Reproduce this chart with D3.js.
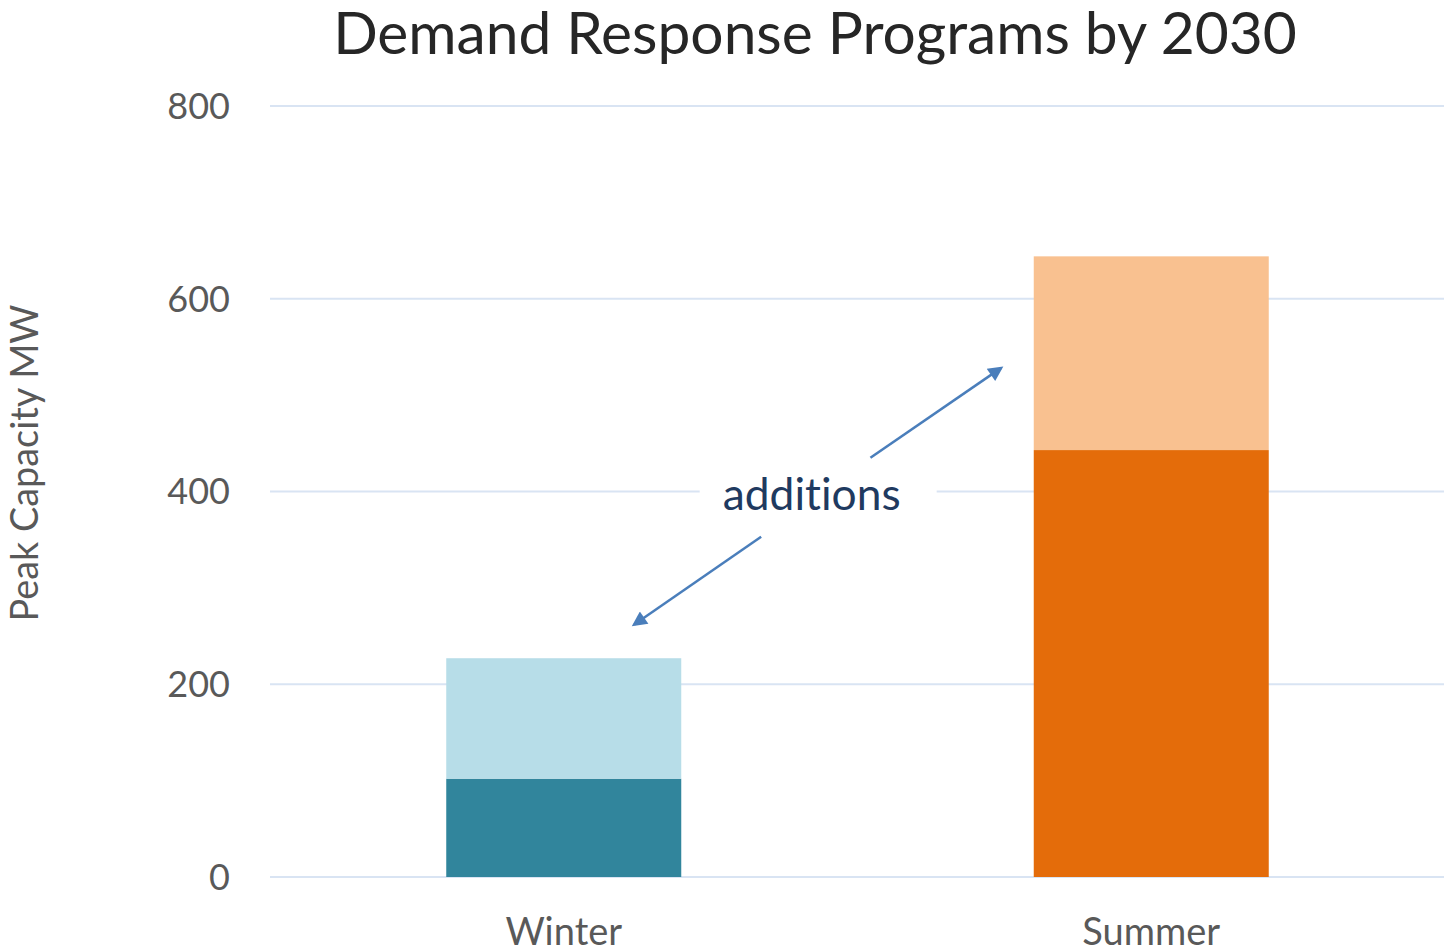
<!DOCTYPE html>
<html>
<head>
<meta charset="utf-8">
<script src="https://cdn.jsdelivr.net/npm/d3@7"></script>
<style>
  body { margin: 0; background: #fff; }
  svg { display: block; font-family: Lato, "Open Sans", sans-serif; font-variant-ligatures: none; }
</style>
</head>
<body>
<svg id="chart" width="1445" height="952"></svg>
<script>
// data
const seasons = ['Winter', 'Summer'];
const existing = [102, 443];
const additions = [125, 201];
const baseColors = ['#31859c', '#e46c0a'];
const addColors = ['#b7dde8', '#f9c190'];
const yTicks = [0, 200, 400, 600, 800];

// annotation: x as fraction of the plot width, y in MW
const arrowUp = { x1: 0.511, y1: 435, x2: 0.622, y2: 528 };
const arrowDown = { x1: 0.418, y1: 353, x2: 0.310, y2: 262 };
const noteLabel = { x: 0.461, y: 397, text: 'additions' };

const svg = d3.select('#chart');
const margin = { top: 106, right: 0, bottom: 75, left: 270 };
const width = 1445 - margin.left - margin.right;
const height = 952 - margin.top - margin.bottom;

const g = svg.append('g').attr('transform', `translate(${margin.left},${margin.top})`);

const x = d3.scaleBand().domain(seasons).range([0, width]).paddingInner(0).paddingOuter(0);
const y = d3.scaleLinear().domain([0, 800]).range([height, 0]);
const fx = d3.scaleLinear().domain([0, 1]).range([0, width]);

// shrink/grow a text so it spans a given width
function fit(sel, target) {
  const w = sel.node().getComputedTextLength();
  const fs = parseFloat(sel.attr('font-size'));
  sel.attr('font-size', fs * target / w);
}

// gridlines
g.append('g')
  .selectAll('line')
  .data(yTicks)
  .enter()
  .append('line')
  .attr('x1', 0)
  .attr('x2', width - 1)
  .attr('y1', d => y(d))
  .attr('y2', d => y(d))
  .attr('stroke', '#d9e4f3')
  .attr('stroke-width', 2);

// y tick labels
g.append('g')
  .selectAll('text')
  .data(yTicks)
  .enter()
  .append('text')
  .attr('x', -40)
  .attr('y', d => y(d))
  .attr('dy', '0.36em')
  .attr('text-anchor', 'end')
  .attr('font-size', 36)
  .attr('fill', '#595959')
  .text(d => d);

// stacked bars
const bw = x.bandwidth() * 0.4;
const bars = g.append('g')
  .selectAll('g')
  .data(seasons)
  .enter()
  .append('g');

bars.append('rect')
  .attr('x', d => x(d) + (x.bandwidth() - bw) / 2)
  .attr('width', bw)
  .attr('y', (d, i) => y(existing[i]))
  .attr('height', (d, i) => y(0) - y(existing[i]))
  .attr('fill', (d, i) => baseColors[i]);

bars.append('rect')
  .attr('x', d => x(d) + (x.bandwidth() - bw) / 2)
  .attr('width', bw)
  .attr('y', (d, i) => y(existing[i] + additions[i]))
  .attr('height', (d, i) => y(existing[i]) - y(existing[i] + additions[i]))
  .attr('fill', (d, i) => addColors[i]);

// x labels
g.append('g')
  .selectAll('text')
  .data(seasons)
  .enter()
  .append('text')
  .attr('x', d => x(d) + x.bandwidth() / 2)
  .attr('y', height + 68)
  .attr('text-anchor', 'middle')
  .attr('font-size', 38)
  .attr('fill', '#595959')
  .text(d => d);

// annotation: white box behind the label, arrows and text
svg.append('defs').append('marker')
  .attr('id', 'head')
  .attr('viewBox', '0 0 10 10')
  .attr('refX', 8)
  .attr('refY', 5)
  .attr('markerWidth', 7)
  .attr('markerHeight', 6)
  .attr('orient', 'auto')
  .append('path')
  .attr('d', 'M0,0 L10,5 L0,10 z')
  .attr('fill', '#4a7ebb');

const note = g.append('g');
const box = note.append('rect').attr('fill', '#fff');
[arrowUp, arrowDown].forEach(a => {
  note.append('line')
    .attr('x1', fx(a.x1)).attr('y1', y(a.y1))
    .attr('x2', fx(a.x2)).attr('y2', y(a.y2))
    .attr('stroke', '#4a7ebb')
    .attr('stroke-width', 2.5)
    .attr('marker-end', 'url(#head)');
});
const label = note.append('text')
  .attr('x', fx(noteLabel.x))
  .attr('y', y(noteLabel.y))
  .attr('dy', '0.36em')
  .attr('text-anchor', 'middle')
  .attr('font-size', 40)
  .attr('fill', '#1f3a60')
  .text(noteLabel.text);
fit(label, 178);
box.attr('x', fx(noteLabel.x) - 112).attr('y', y(noteLabel.y) - 40)
  .attr('width', 237).attr('height', 80);

// y axis title
const yTitle = svg.append('text')
  .attr('transform', 'translate(38,463) rotate(-90)')
  .attr('text-anchor', 'middle')
  .attr('font-size', 36)
  .attr('fill', '#595959')
  .text('Peak Capacity MW');
fit(yTitle, 317);

// chart title
const title = svg.append('text')
  .attr('x', 815)
  .attr('y', 54)
  .attr('text-anchor', 'middle')
  .attr('font-size', 60)
  .attr('fill', '#262626')
  .text('Demand Response Programs by 2030');
fit(title, 964);
</script>
</body>
</html>
